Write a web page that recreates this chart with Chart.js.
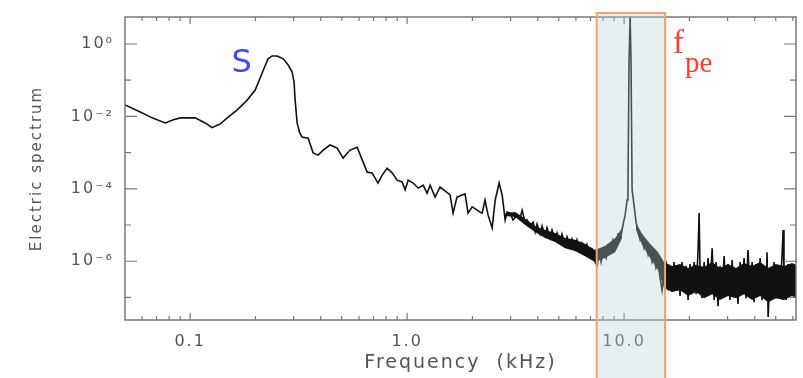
<!DOCTYPE html>
<html>
<head>
<meta charset="utf-8">
<script src="https://cdn.jsdelivr.net/npm/chart.js@4"></script>
<style>
  html, body { margin: 0; padding: 0; background: #fff; }
  #chart { display: block; }
</style>
</head>
<body>
<canvas id="chart" width="803" height="378"></canvas>
<script>
// Values, kept as decade exponents:
// log10(frequency in kHz) and log10(electric spectrum).

// low frequency part, smooth, with the S bump
const smoothF = [-1.300, -1.230, -1.175, -1.115, -1.080, -1.046, -0.977, -0.931, -0.899, -0.862, -0.829, -0.783, -0.737, -0.700, -0.668, -0.641, -0.622, -0.599, -0.571, -0.548, -0.530, -0.521, -0.516, -0.507, -0.495, -0.484, -0.456, -0.433, -0.410, -0.387, -0.355];
const smoothE = [-1.685, -1.878, -2.04, -2.18, -2.10, -2.04, -2.04, -2.18, -2.31, -2.21, -2.04, -1.82, -1.55, -1.27, -0.80, -0.41, -0.33, -0.33, -0.41, -0.58, -0.77, -1.05, -1.55, -2.18, -2.45, -2.57, -2.60, -3.01, -3.07, -2.93, -2.79];

// falling part up to ~3.5 kHz
const slopeF = [-0.323, -0.295, -0.263, -0.230, -0.207, -0.184, -0.161, -0.134, -0.115, -0.092, -0.069, -0.046, -0.023, -0.009, 0.005, 0.028, 0.051, 0.074, 0.092, 0.106, 0.129, 0.152, 0.175, 0.198, 0.212, 0.230, 0.253, 0.267, 0.281, 0.300, 0.323, 0.336, 0.346, 0.359, 0.373, 0.392, 0.406, 0.424, 0.438, 0.452, 0.461, 0.475, 0.488, 0.507, 0.521, 0.530, 0.544, 0.553, 0.567];
const slopeE = [-2.87, -3.15, -2.93, -2.85, -3.20, -3.54, -3.56, -3.84, -3.62, -3.43, -3.56, -3.76, -3.81, -4.03, -3.76, -3.84, -3.98, -3.90, -4.12, -3.90, -4.23, -3.95, -4.06, -4.17, -4.67, -4.23, -4.17, -4.14, -4.67, -4.50, -4.59, -4.64, -4.67, -4.31, -4.72, -5.08, -4.31, -3.84, -4.17, -4.86, -4.64, -4.67, -4.86, -4.72, -4.81, -4.59, -4.92, -4.86, -5.03];

// noisy part before the fpe box
const bandF = [0.581, 0.590, 0.599, 0.613, 0.622, 0.636, 0.645, 0.659, 0.668, 0.682, 0.691, 0.705, 0.714, 0.728, 0.737, 0.751, 0.760, 0.774, 0.783, 0.797, 0.806, 0.820, 0.829, 0.843, 0.852, 0.866, 0.876];
const bandE = [-4.92, -5.19, -4.97, -5.25, -5.03, -5.30, -5.08, -5.36, -5.14, -5.41, -5.22, -5.47, -5.25, -5.55, -5.33, -5.58, -5.39, -5.66, -5.41, -5.69, -5.50, -5.75, -5.55, -5.86, -5.69, -6.02, -6.13];

// plasma line peak inside the box
const peakF = [0.885, 0.894, 0.903, 0.917, 0.926, 0.940, 0.949, 0.963, 0.972, 0.986, 0.995, 1.005, 1.014, 1.018, 1.023, 1.028, 1.032, 1.037, 1.046, 1.055, 1.065, 1.074, 1.083, 1.092, 1.101, 1.111, 1.120, 1.129, 1.138, 1.147, 1.157, 1.166, 1.175, 1.184];
const peakE = [-5.75, -6.02, -5.69, -5.91, -5.58, -5.75, -5.41, -5.58, -5.25, -5.30, -5.00, -4.72, -4.31, -3.90, -0.44, 0.75, -0.44, -4.03, -4.45, -4.92, -5.19, -5.41, -5.30, -5.64, -5.52, -5.83, -5.69, -6.02, -5.86, -6.19, -6.02, -6.46, -6.80, -6.30];

// noise floor above the box
const tailF = [1.194, 1.203, 1.212, 1.221, 1.230, 1.240, 1.249, 1.258, 1.267, 1.276, 1.286, 1.295, 1.304, 1.313, 1.323, 1.332, 1.341, 1.346, 1.350, 1.359, 1.369, 1.378, 1.387, 1.396, 1.406, 1.415, 1.424, 1.433, 1.442, 1.452, 1.461, 1.470, 1.479, 1.488, 1.498, 1.507, 1.516, 1.525, 1.535, 1.544, 1.553, 1.562, 1.571, 1.581, 1.590, 1.599, 1.608, 1.618, 1.627, 1.636, 1.645, 1.654, 1.659, 1.664, 1.673, 1.682, 1.691, 1.700, 1.710, 1.719, 1.728, 1.733, 1.737, 1.747, 1.756, 1.765, 1.774, 1.783, 1.793];
const tailE = [-6.08, -6.66, -6.19, -6.85, -6.02, -6.74, -6.13, -6.96, -6.02, -6.80, -6.13, -7.07, -6.08, -6.69, -6.02, -6.91, -5.69, -4.67, -6.19, -7.02, -6.02, -6.80, -5.91, -6.69, -5.64, -7.07, -6.02, -7.24, -6.13, -6.85, -5.86, -6.96, -6.08, -7.07, -5.97, -6.74, -6.19, -7.18, -6.02, -6.91, -5.91, -7.02, -5.69, -6.85, -6.02, -7.13, -6.08, -6.96, -5.91, -7.07, -6.13, -6.80, -5.75, -7.54, -6.24, -6.91, -6.02, -7.02, -6.13, -6.80, -5.86, -5.14, -6.30, -7.07, -6.08, -6.85, -6.19, -6.96, -6.24];

// upper / lower edges of the dense noise band (same exponent units)
const lowBandF = [0.452, 0.498, 0.544, 0.590, 0.636, 0.682, 0.728, 0.774, 0.820, 0.866, 0.912, 0.959, 0.991];
const lowBandTop = [-4.67, -4.64, -4.83, -5.03, -5.14, -5.22, -5.36, -5.41, -5.52, -5.69, -5.58, -5.36, -5.08];
const lowBandBot = [-4.75, -4.78, -5.00, -5.19, -5.36, -5.47, -5.64, -5.72, -5.86, -6.02, -5.91, -5.75, -5.36];
const highBandF = [1.055, 1.083, 1.120, 1.157, 1.184, 1.221, 1.258, 1.295, 1.332, 1.369, 1.406, 1.442, 1.479, 1.516, 1.553, 1.590, 1.627, 1.664, 1.700, 1.737, 1.774, 1.793];
const highBandTop = [-4.92, -5.25, -5.52, -5.75, -6.02, -6.13, -6.08, -6.19, -6.10, -6.16, -6.02, -6.19, -6.08, -6.19, -6.05, -6.13, -6.02, -6.19, -6.08, -6.13, -6.05, -6.10];
const highBandBot = [-5.14, -5.55, -5.91, -6.24, -6.74, -6.85, -6.80, -6.96, -6.85, -7.02, -6.91, -7.07, -6.96, -7.02, -6.91, -7.07, -6.96, -7.13, -7.02, -7.07, -6.96, -7.02];

const xTickValues = [0.1, 1, 10];
const xTickLabels = ['0.1', '1.0', '10.0'];
const yTickValues = [1, 1e-2, 1e-4, 1e-6];
const yTickLabels = ['10⁰', '10⁻²', '10⁻⁴', '10⁻⁶'];
const xRange = [0.0501, 62];
const yRange = [2.38e-8, 5.57];
const fpeBand = [7.48, 15.45]; // kHz

function toPoints(f, e) {
  return f.map((lf, i) => ({ x: 10 ** lf, y: 10 ** e[i] }));
}

const points = [];
[[smoothF, smoothE], [slopeF, slopeE], [bandF, bandE], [peakF, peakE], [tailF, tailE]].forEach(([f, e]) => {
  points.push(...toPoints(f, e));
});

const edge = { borderWidth: 0, pointRadius: 0, tension: 0, backgroundColor: '#111' };

// frame, inward ticks, the fpe box and the two labels
const decorPlugin = {
  id: 'decor',
  beforeDraw(chart) {
    chart.ctx.letterSpacing = '2px';
  },
  afterDatasetsDraw(chart) {
    const { ctx, chartArea: a, scales: { x, y } } = chart;
    ctx.save();
    ctx.strokeStyle = '#777';
    ctx.lineWidth = 1.5;
    ctx.strokeRect(a.left, a.top, a.right - a.left, a.bottom - a.top);
    ctx.lineWidth = 1.2;
    ctx.beginPath();
    for (let d = -2; d <= 1; d++) {
      for (let m = 1; m <= 9; m++) {
        const v = m * 10 ** d;
        if (v < xRange[0] || v > xRange[1]) continue;
        const px = x.getPixelForValue(v);
        const len = m === 1 ? 7 : 4;
        ctx.moveTo(px, a.bottom); ctx.lineTo(px, a.bottom - len);
        ctx.moveTo(px, a.top); ctx.lineTo(px, a.top + len);
      }
    }
    for (let d = -7; d <= 0; d++) {
      const py = y.getPixelForValue(10 ** d);
      const len = d % 2 === 0 ? 12 : 6;
      ctx.moveTo(a.left, py); ctx.lineTo(a.left + len, py);
      ctx.moveTo(a.right, py); ctx.lineTo(a.right - len, py);
    }
    ctx.stroke();
    ctx.restore();
  },
  afterDraw(chart) {
    const { ctx, chartArea: a, scales: { x, y } } = chart;
    ctx.save();
    const x0 = x.getPixelForValue(fpeBand[0]);
    const x1 = x.getPixelForValue(fpeBand[1]);
    const top = a.top - 4;
    ctx.fillStyle = 'rgba(172, 214, 214, 0.34)';
    ctx.fillRect(x0, top, x1 - x0, chart.height - top);
    ctx.strokeStyle = '#f4a070';
    ctx.lineWidth = 2;
    ctx.strokeRect(x0, top, x1 - x0, chart.height - top + 4);

    ctx.letterSpacing = '0px';
    ctx.textBaseline = 'alphabetic';
    ctx.textAlign = 'left';
    ctx.fillStyle = '#3b48f2';
    ctx.font = '32px "DejaVu Sans"';
    ctx.fillText('S', x.getPixelForValue(0.155), y.getPixelForValue(0.169));
    ctx.fillStyle = '#ff3a2e';
    ctx.font = '33px "Liberation Serif"';
    ctx.fillText('f', x.getPixelForValue(16.8), y.getPixelForValue(0.56));
    ctx.font = '29px "Liberation Serif"';
    ctx.fillText('pe', x.getPixelForValue(19.1), y.getPixelForValue(0.17));
    ctx.restore();
  }
};

const labelFont = { family: 'DejaVu Sans', size: 16 };

new Chart(document.getElementById('chart'), {
  type: 'line',
  data: {
    datasets: [
      { data: points, borderColor: '#111', borderWidth: 1.6, pointRadius: 0, tension: 0, fill: false },
      { ...edge, data: toPoints(lowBandF, lowBandTop), fill: '+1' },
      { ...edge, data: toPoints(lowBandF, lowBandBot), fill: false },
      { ...edge, data: toPoints(highBandF, highBandTop), fill: '+1' },
      { ...edge, data: toPoints(highBandF, highBandBot), fill: false }
    ]
  },
  options: {
    responsive: false,
    animation: false,
    devicePixelRatio: 1,
    layout: { padding: { top: 17, right: 7, left: 0, bottom: 0 } },
    plugins: { legend: { display: false }, tooltip: { enabled: false } },
    scales: {
      x: {
        type: 'logarithmic',
        min: xRange[0],
        max: xRange[1],
        grid: { display: false },
        border: { display: false },
        afterBuildTicks: s => { s.ticks = xTickValues.map(v => ({ value: v })); },
        afterFit: s => { s.height = 58; },
        ticks: {
          autoSkip: false,
          maxRotation: 0,
          padding: 4,
          color: '#555',
          font: labelFont,
          callback: (v, i) => xTickLabels[i]
        },
        title: {
          display: true,
          text: 'Frequency  (kHz)',
          color: '#555',
          font: { family: 'DejaVu Sans', size: 19 },
          padding: { top: 0, bottom: 4 }
        }
      },
      y: {
        type: 'logarithmic',
        min: yRange[0],
        max: yRange[1],
        grid: { display: false },
        border: { display: false },
        afterBuildTicks: s => { s.ticks = yTickValues.map(v => ({ value: v })); },
        afterFit: s => { s.width = 125; },
        ticks: {
          autoSkip: false,
          padding: 3,
          color: '#555',
          font: labelFont,
          callback: (v, i) => yTickLabels[i]
        },
        title: {
          display: true,
          text: 'Electric spectrum',
          color: '#555',
          font: { family: 'DejaVu Sans', size: 15 },
          padding: { top: 28, bottom: 0 }
        }
      }
    }
  },
  plugins: [decorPlugin]
});
</script>
</body>
</html>
